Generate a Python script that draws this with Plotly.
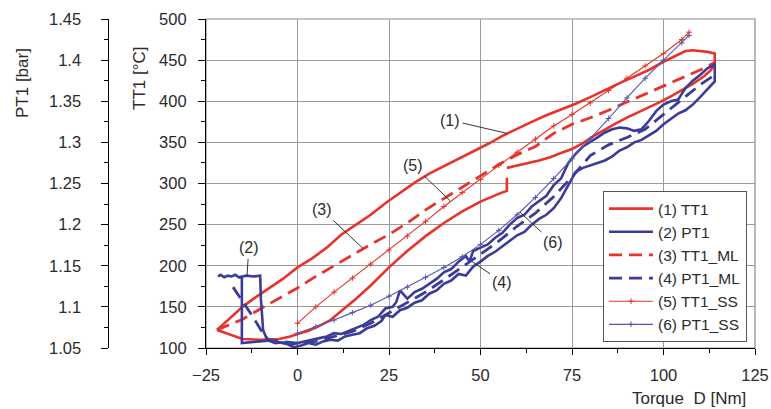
import plotly.graph_objects as go

# ---------------- data ----------------
# (1) TT1 measured [°C] vs torque [Nm]  (loop, None = gap in record)
tt1_torque = [-22, -18, -15, -12, -8, -4, 0, 4, 8, 12, 16, 20, 24, 28, 32, 36, 40, 44, 48, 52,
              56, 60, 64, 68, 72, 76, 80, 84, 88, 92, 96, 100, 103, 106, 108, 110, 112, 114, 114,
              113, 111, 108, 105, 102, 99, 96, 93, 90, 87, 84, 81, 78, 75, 72, 69, 66, 63, 60, 57.2,
              None, 57.2, 57.2, 55.3, 50, 45, 40, 35, 30, 25, 20, 16, 12, 9, 6, 3, 0, -2, -5, -10,
              -15, -18, -22]
tt1_temp = [122, 138, 150, 160, 172, 184, 198, 209, 222, 238, 250, 262, 276, 289, 301, 312, 321, 329, 338, 348,
            358, 367, 375, 383, 390, 397, 405, 414, 422, 430, 438, 448, 455, 461, 462, 461, 460, 458, 447,
            438, 430, 421, 413, 406, 399, 393, 387, 380, 373, 366, 358, 349, 342, 337, 332, 328, 325, 322, 319,
            None, 307, 291, 288, 278, 266, 252, 236, 218, 198, 176, 160, 145, 134, 127, 121, 117, 114, 111, 110,
            111, 116, 122]

# (2) PT1 measured [bar] vs torque [Nm]
pt1_torque = [-21.7, -21.0, -20.0, -19.0, -18.0, -17.0, -16.0, -14.0, -12.0, -10.2, -10.0, -9.6, -9.4, -8.5, -7.0,
              -5, -3, -1, 1, 3, 5, 7, 9, 11, 13, 15, 17, 19, 21, 23, 24, 26, 28, 30, 32, 34, 36, 38, 40,
              42, 44, 46, 48, 50, 52, 54, 56, 58, 60, 62, 64, 66, 68, 70, 72, 74, 76, 78, 80, 82, 84, 86, 88,
              90, 92, 94, 96, 98, 100, 102, 104, 106, 108, 110, 112, 114, 114,
              112, 110, 108, 106, 104, 102, 100, 98, 96, 94, 92, 90, 88, 86, 84, 82, 80, 78, 76, 74, 72, 70,
              68, 66, 64, 62, 60, 58, 56, 54, 52, 50, 48, 47, 46, 44, 42, 40, 38, 36, 34, 32, 30, 28, 27, 26,
              24, 22, 20, 18, 16, 14, 12, 10, 8, 6, 4, 2, 0, -2, -4, -6, -8, -10, -12, -14, -15.2, -15.2, -15.2]
pt1_bar = [1.137, 1.139, 1.136, 1.138, 1.137, 1.139, 1.136, 1.138, 1.137, 1.138, 1.110, 1.080, 1.072, 1.062, 1.058,
           1.057, 1.055, 1.051, 1.053, 1.056, 1.054, 1.058, 1.060, 1.059, 1.064, 1.066, 1.068, 1.074, 1.077, 1.083,
           1.090, 1.088, 1.096, 1.099, 1.105, 1.108, 1.116, 1.120, 1.128,
           1.132, 1.140, 1.138, 1.149, 1.155, 1.162, 1.167, 1.174, 1.181, 1.187, 1.191, 1.200, 1.207, 1.212, 1.220,
           1.232, 1.248, 1.264, 1.269, 1.272, 1.275, 1.278, 1.283, 1.290,
           1.294, 1.300, 1.303, 1.308, 1.314, 1.322, 1.328, 1.335, 1.339, 1.346, 1.355, 1.365, 1.374, 1.395,
           1.390, 1.382, 1.375, 1.366, 1.352, 1.350, 1.346, 1.338, 1.326, 1.316, 1.314, 1.317, 1.318, 1.316,
           1.312, 1.306, 1.300, 1.295, 1.286, 1.275, 1.256, 1.248,
           1.235, 1.228, 1.222, 1.212, 1.208, 1.200, 1.190, 1.184, 1.176, 1.172, 1.168, 1.155, 1.162, 1.155,
           1.146, 1.142, 1.134, 1.128, 1.122, 1.118, 1.110, 1.120, 1.106, 1.100,
           1.098, 1.088, 1.084, 1.078, 1.074, 1.070, 1.067, 1.068, 1.064, 1.062, 1.060, 1.058, 1.056, 1.054,
           1.057, 1.056, 1.059, 1.058, 1.057, 1.056, 1.056, 1.090, 1.136]

# (3) TT1_ML model [°C]
ml_tt1_torque = [-22, -15, -10, -5, 0, 5, 10, 15, 20, 25, 30, 35, 40, 45, 50, 55, 60, 65, 70, 75,
                 80, 85, 90, 95, 100, 105, 110, 114]
ml_tt1_temp = [122, 135, 148, 160, 173, 187, 200, 214, 226, 238, 252, 268, 282, 296, 310, 323, 335, 345, 361, 372,
               380, 389, 399, 409, 419, 428, 438, 447]

# (4) PT1_ML model [bar]
ml_pt1_torque = [-17.6, -15, -12.2, -10, -8, -5, 0, 5, 10, 15, 20, 25, 30, 35, 40, 45, 50, 55, 60, 65,
                 70, 75, 80, 85, 90, 95, 100, 105, 110, 114]
ml_pt1_bar = [1.124, 1.107, 1.088, 1.072, 1.060, 1.058, 1.056, 1.058, 1.064, 1.070, 1.080, 1.093, 1.105, 1.118,
              1.133, 1.148, 1.164, 1.180, 1.198, 1.214, 1.234, 1.258, 1.284, 1.297, 1.306, 1.316, 1.334, 1.352,
              1.370, 1.382]

# (5) TT1_SS steady state [°C]
ss_torque = [0, 5, 10, 15, 20, 25, 30, 35, 40, 45, 50, 55, 60, 65, 70, 75, 80, 85, 90, 95, 100, 105, 107]
ss_tt1_temp = [130, 150, 168, 185, 202, 219, 236, 254, 272, 289, 305, 322, 338, 354, 370, 384, 398, 413, 428,
               443, 458, 475, 484]
# (6) PT1_SS steady state [bar]
ss_pt1_bar = [1.068, 1.076, 1.084, 1.093, 1.102, 1.113, 1.124, 1.136, 1.148, 1.161, 1.176, 1.193, 1.212, 1.233,
              1.256, 1.280, 1.304, 1.329, 1.354, 1.378, 1.400, 1.421, 1.430]

x_ticks = [-25, 0, 25, 50, 75, 100, 125]
tt1_ticks = [100, 150, 200, 250, 300, 350, 400, 450, 500]
pt1_ticks = [1.05, 1.1, 1.15, 1.2, 1.25, 1.3, 1.35, 1.4, 1.45]
pt1_ticktext = ["1.05", "1.1", "1.15", "1.2", "1.25", "1.3", "1.35", "1.4", "1.45"]

# ---------------- figure ----------------
W, H = 771, 409
RED = "#E8322C"
BLUE = "#3A3C98"
BLUE_THIN = "#5558AE"
FONT = "Liberation Sans, Arial, sans-serif"
TXT = "#2b2b2b"
GRID = "#9a9a9a"

fig = go.Figure()
fig.add_trace(go.Scatter(x=tt1_torque, y=tt1_temp, mode="lines", name="(1) TT1",
                         line=dict(color=RED, width=2.6), connectgaps=False))
fig.add_trace(go.Scatter(x=pt1_torque, y=pt1_bar, mode="lines", name="(2) PT1", yaxis="y2",
                         line=dict(color=BLUE, width=2.6)))
fig.add_trace(go.Scatter(x=ml_tt1_torque, y=ml_tt1_temp, mode="lines", name="(3) TT1_ML",
                         line=dict(color=RED, width=2.8, dash="13px,7px")))
fig.add_trace(go.Scatter(x=ml_pt1_torque, y=ml_pt1_bar, mode="lines", name="(4) PT1_ML", yaxis="y2",
                         line=dict(color=BLUE, width=2.8, dash="13px,7px")))
fig.add_trace(go.Scatter(x=ss_torque, y=ss_tt1_temp, mode="lines+markers", name="(5) TT1_SS",
                         line=dict(color=RED, width=1.1),
                         marker=dict(symbol="cross-thin", size=4, line=dict(color=RED, width=1))))
fig.add_trace(go.Scatter(x=ss_torque, y=ss_pt1_bar, mode="lines+markers", name="(6) PT1_SS", yaxis="y2",
                         line=dict(color=BLUE_THIN, width=1.1),
                         marker=dict(symbol="cross-thin", size=4, line=dict(color=BLUE_THIN, width=1))))

xdom = [206 / W, 755 / W]
ydom = [1 - 348 / H, 1 - 19 / H]
pt1_pos = 108 / W

common_tick = dict(tickcolor="black", tickwidth=1, automargin=False)
fig.update_layout(
    width=W, height=H, autosize=False,
    margin=dict(l=0, r=0, t=0, b=0, pad=0, autoexpand=False),
    paper_bgcolor="white", plot_bgcolor="white",
    font=dict(family=FONT, size=16, color=TXT),
    showlegend=True,
    legend=dict(x=747 / W, xanchor="right", y=1 - 191 / H, yanchor="top",
                bgcolor="white", bordercolor="#555555", borderwidth=1,
                font=dict(family=FONT, size=15.5, color=TXT), itemwidth=44,
                tracegroupgap=0),
    xaxis=dict(domain=xdom, range=[-25, 125], tickvals=x_ticks, anchor="y",
               showgrid=True, gridcolor=GRID, gridwidth=1, zeroline=False,
               showline=True, linecolor="black", linewidth=1.2,
               ticks="outside", ticklen=6, **common_tick, ticklabelstandoff=6,
               minor=dict(dtick=12.5, tick0=-25, ticks="outside", ticklen=3.5, tickcolor="black", showgrid=False),
               tickfont=dict(size=16.5, color=TXT)),
    xaxis2=dict(domain=xdom, range=[-25, 125], overlaying="x", anchor="y", tickvals=x_ticks,
                showgrid=False, zeroline=False, showline=False, showticklabels=False,
                ticks="inside", ticklen=6, **common_tick,
                minor=dict(dtick=12.5, tick0=-25, ticks="inside", ticklen=3.5, tickcolor="black", showgrid=False)),
    yaxis=dict(domain=ydom, range=[100, 500], tickvals=tt1_ticks, anchor="x",
               showgrid=True, gridcolor=GRID, gridwidth=1, zeroline=False,
               showline=True, linecolor="black", linewidth=1.2,
               ticks="outside", ticklen=7, **common_tick, ticklabelstandoff=8,
               minor=dict(dtick=25, tick0=100, ticks="outside", ticklen=3.5, tickcolor="black", showgrid=False),
               tickfont=dict(size=16.5, color=TXT)),
    yaxis3=dict(domain=ydom, range=[100, 500], overlaying="y", anchor="x", side="left", tickvals=tt1_ticks,
                showgrid=False, zeroline=False, showline=False, showticklabels=False,
                ticks="inside", ticklen=7, **common_tick,
                minor=dict(dtick=25, tick0=100, ticks="inside", ticklen=3.5, tickcolor="black", showgrid=False)),
    yaxis2=dict(domain=ydom, range=[1.05, 1.45], overlaying="y", anchor="free", position=pt1_pos, side="left",
                tickvals=pt1_ticks, ticktext=pt1_ticktext,
                showgrid=False, zeroline=False, showline=True, linecolor="black", linewidth=1.2,
                ticks="outside", ticklen=6.5, **common_tick, ticklabelstandoff=17,
                minor=dict(dtick=0.025, tick0=1.05, ticks="outside", ticklen=3.5, tickcolor="black", showgrid=False),
                tickfont=dict(size=16.5, color=TXT)),
    yaxis4=dict(domain=ydom, range=[1.05, 1.45], overlaying="y", anchor="free", position=pt1_pos, side="left",
                tickvals=pt1_ticks, showgrid=False, zeroline=False, showline=False, showticklabels=False,
                ticks="inside", ticklen=6.5, **common_tick,
                minor=dict(dtick=0.025, tick0=1.05, ticks="inside", ticklen=3.5, tickcolor="black", showgrid=False)),
)

# plot frame (top / right border in grey)
fig.add_shape(type="rect", xref="x domain", yref="y domain", x0=0, x1=1, y0=0, y1=1,
              line=dict(color="#8a8a8a", width=1.2), layer="below")

# axis titles
fig.add_annotation(text="TT1 [°C]", xref="paper", yref="paper", x=140 / W, y=1 - 79 / H,
                   textangle=-90, showarrow=False, xanchor="center", yanchor="middle",
                   font=dict(size=17, color=TXT))
fig.add_annotation(text="PT1 [bar]", xref="paper", yref="paper", x=22 / W, y=1 - 83 / H,
                   textangle=-90, showarrow=False, xanchor="center", yanchor="middle",
                   font=dict(size=17, color=TXT))
fig.add_annotation(text="Torque\u00a0 D [Nm]", xref="paper", yref="paper", x=748 / W, y=1 - 398 / H,
                   showarrow=False, xanchor="right", yanchor="middle", font=dict(size=17, color=TXT))

# curve labels with leader lines
labels = [
    ("(1)", 41.7, 377, 57.2, 361, "y"),
    ("(5)", 31.6, 322, 41.7, 279, "y"),
    ("(3)", 6.7, 268, 17.9, 221, "y"),
    ("(2)", -13.3, 1.1716, -13.8, 1.1375, "y2"),
    ("(4)", 56.0, 1.130, 47.7, 1.155, "y2"),
    ("(6)", 69.8, 1.178, 60.8, 1.215, "y2"),
]
for txt, lx, ly, tx, ty, yr in labels:
    fig.add_annotation(text=txt, x=tx, y=ty, xref="x", yref=yr, ax=lx, ay=ly, axref="x", ayref=yr,
                       showarrow=True, arrowhead=0, arrowwidth=1, arrowcolor="#333333",
                       standoff=0, startstandoff=1, font=dict(size=16, color=TXT))

fig.write_html("out.html", config={"displayModeBar": False},
               post_script="document.body.style.margin='0';document.body.style.overflow='hidden';")
